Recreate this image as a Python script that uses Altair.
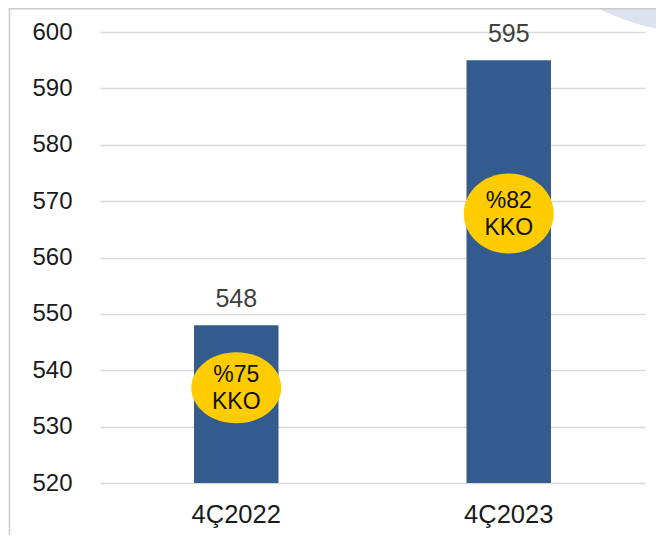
import altair as alt
import pandas as pd

categories = ["4Ç2022", "4Ç2023"]
values = [548, 595]
badge_pct = ["%75", "%82"]
badge_unit = ["KKO", "KKO"]
badge_y = [536.9, 567.8]
y_ticks = [520, 530, 540, 550, 560, 570, 580, 590, 600]

df = pd.DataFrame({
    "cat": categories,
    "val": values,
    "badge": [p + "\n" + u for p, u in zip(badge_pct, badge_unit)],
    "by": badge_y,
})

FONT = "Liberation Sans"
BAR = "#335B8D"
YEL = "#FFCC00"
ELL_1 = "M-1,0A1,0.79,0,1,1,1,0A1,0.79,0,1,1,-1,0Z"
ELL_2 = "M-1,0A1,0.89,0,1,1,1,0A1,0.89,0,1,1,-1,0Z"

x_enc = alt.X(
    "cat:N", sort=categories,
    scale=alt.Scale(paddingInner=0.69, paddingOuter=0.345),
    axis=alt.Axis(title=None, labelAngle=0, labelFontSize=25.5, labelColor="#1a1a1a",
                  labelFont=FONT, labelPadding=19, grid=False),
)
y_scale = alt.Scale(domain=[520, 600], zero=False, nice=False)

base = alt.Chart(df)

bars = base.mark_bar(color=BAR).encode(
    x=x_enc,
    y=alt.Y("val:Q", scale=y_scale,
            axis=alt.Axis(values=y_ticks, title=None, labelFontSize=24, labelColor="#1a1a1a",
                          labelFont=FONT, labelPadding=28, gridColor="#D9D9D9", gridWidth=1.5)),
    y2=alt.datum(520),
)

val_labels = base.mark_text(baseline="alphabetic", dy=-18, fontSize=25, font=FONT,
                            color="#404040").encode(
    x=alt.X("cat:N", sort=categories),
    y=alt.Y("val:Q", scale=y_scale),
    text=alt.Text("val:Q"),
)

badges = base.mark_point(
    filled=True, color=YEL, size=8100, opacity=1, strokeWidth=0,
).encode(
    x=alt.X("cat:N", sort=categories),
    y=alt.Y("by:Q", scale=y_scale),
    shape=alt.Shape("cat:N", scale=alt.Scale(domain=categories, range=[ELL_1, ELL_2]),
                    legend=None),
)

badge_text = base.mark_text(baseline="middle", dy=-13, fontSize=23, font=FONT, color="#111111",
                            lineBreak="\n", lineHeight=27).encode(
    x=alt.X("cat:N", sort=categories),
    y=alt.Y("by:Q", scale=y_scale),
    text="badge:N",
)

deco = alt.Chart(pd.DataFrame({"d": [0]}))
swoosh = deco.mark_arc(radius=286, theta=0, theta2=6.2832, color="#DCE3EE").encode(
    x=alt.value(620), y=alt.value(-282))
frame_left = deco.mark_rect(color="#C9C9C9").encode(
    x=alt.value(-91.25), x2=alt.value(-89.75), y=alt.value(-24), y2=alt.value(520))
frame_top = deco.mark_rect(color="#C9C9C9").encode(
    x=alt.value(-91.25), x2=alt.value(600), y=alt.value(-24), y2=alt.value(-22.5))

chart = alt.layer(swoosh, frame_left, frame_top, bars, val_labels, badges, badge_text).properties(
    width=545, height=451,
    background="white",
    autosize=alt.AutoSizeParams(type="none"),
    padding={"left": 92, "top": 24, "right": 11, "bottom": 52},
).configure_view(stroke="transparent", strokeWidth=0).configure_axis(
    domain=False, ticks=False, tickSize=0
)

chart.save("out.html", embed_options={"renderer": "svg", "actions": False})
